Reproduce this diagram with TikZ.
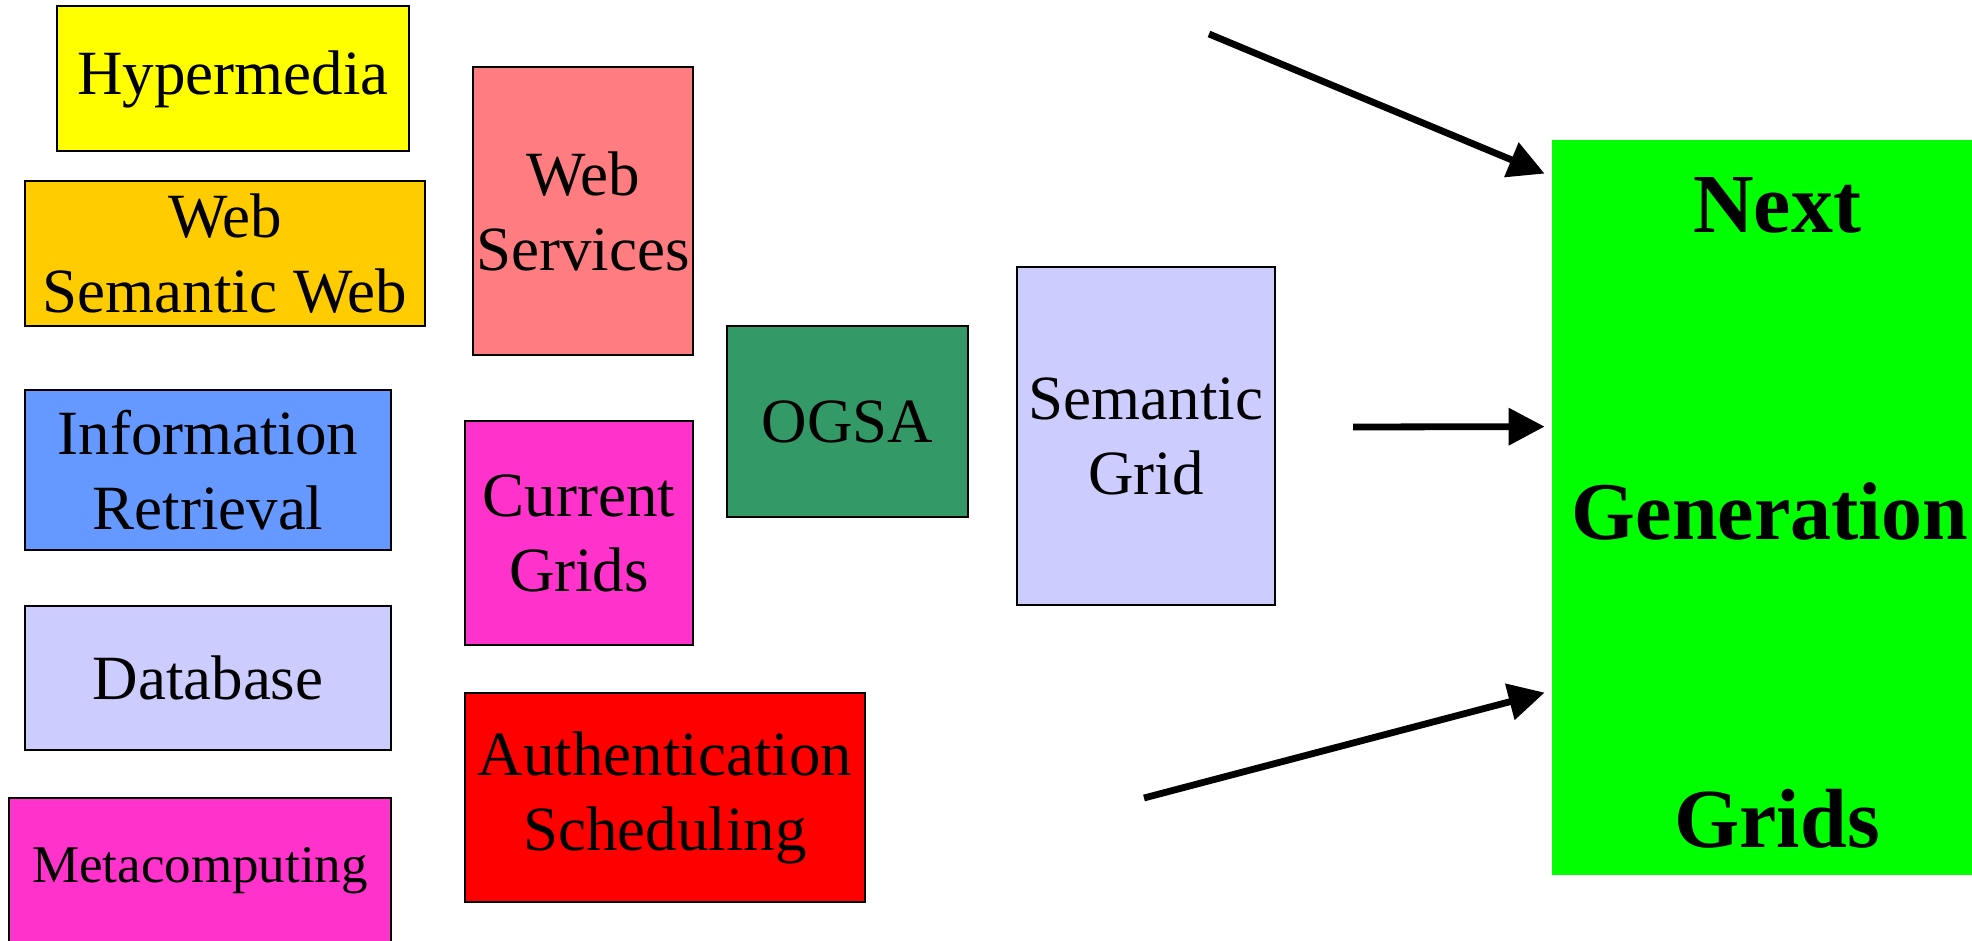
\documentclass[tikz,border=0pt]{standalone}
\usepackage{fontspec}
\setmainfont{Liberation Serif}
\usepackage{tikz}
\usetikzlibrary{arrows.meta, positioning}
\definecolor{hyperyellow}{RGB}{255,255,0}
\definecolor{semwebgold}{RGB}{255,204,0}
\definecolor{irblue}{RGB}{102,153,255}
\definecolor{gridlilac}{RGB}{204,204,255}
\definecolor{gridpink}{RGB}{255,51,204}
\definecolor{wssalmon}{RGB}{255,124,128}
\definecolor{authred}{RGB}{255,0,0}
\definecolor{ogsagreen}{RGB}{51,153,102}
\definecolor{nextgreen}{RGB}{0,255,0}

\begin{document}
\begin{tikzpicture}[x=0.5pt, y=-0.5pt,
  box/.style={draw, line width=1pt, inner sep=0pt, align=center, font=\fontsize{31.5}{37.5}\selectfont},
  bigtext/.style={anchor=base, font=\fontsize{42}{50}\selectfont\bfseries},
  flow/.style={line width=3.4pt, -{Triangle[length=18pt, width=18pt]}}]
\useasboundingbox (0,0) rectangle (1972,941);
\clip (0,0) rectangle (1972,941);

% Older fields
\node[box, fill=hyperyellow, minimum width=176pt, minimum height=72.5pt] (hyper) at (233,79) {Hypermedia};
\node[box, fill=semwebgold, minimum width=200pt, minimum height=72.5pt] (semweb) at (225,253.5) {Web\\Semantic Web};
\node[box, fill=irblue, minimum width=183pt, minimum height=80pt] (inforet) at (208,470) {Information\\Retrieval};
\node[box, fill=gridlilac, minimum width=183pt, minimum height=72pt] (database) at (208,678) {Database};
\node[box, fill=gridpink, minimum width=191pt, minimum height=73pt, font=\fontsize{26.5}{31}\selectfont] (metacomp) at (200,870.5) {Metacomputing};

% Middle layer
\node[box, fill=wssalmon, minimum width=110pt, minimum height=144pt] (websvc) at (583,211) {Web\\Services};
\node[box, fill=gridpink, minimum width=114pt, minimum height=112pt] (curgrid) at (579,533) {Current\\Grids};
\node[box, fill=authred, minimum width=200pt, minimum height=104.5pt] (authsched) at (665,797.5) {Authentication\\Scheduling};
\node[box, fill=ogsagreen, minimum width=120.5pt, minimum height=95.5pt] (ogsa) at (847.5,421.5) {OGSA};
\node[box, fill=gridlilac, minimum width=129pt, minimum height=169pt] (semgrid) at (1146,436) {Semantic\\Grid};

% Next generation
\node[fill=nextgreen, inner sep=0pt, minimum width=225pt, minimum height=367.5pt] (nextgen) at (1777,507.5) {};
\node[bigtext] (nglabel1) at (1777,233) {Next};
\node[bigtext, font=\fontsize{41}{50}\selectfont\bfseries] (nglabel2) at (1770,539) {Generation};
\node[bigtext] (nglabel3) at (1777,847) {Grids};

\coordinate (tail1) at (1209,34);
\coordinate (tail2) at (1353,427);
\coordinate (tail3) at (1144,798);
\draw[flow] (tail1) -- ([xshift=-3.5pt, yshift=-17pt]nextgen.north west);
\draw[flow] (tail2) -- ([xshift=-3.5pt, yshift=-143.5pt]nextgen.north west);
\draw[flow] (tail3) -- ([xshift=-3.5pt, yshift=-276.5pt]nextgen.north west);
\end{tikzpicture}
\end{document}
